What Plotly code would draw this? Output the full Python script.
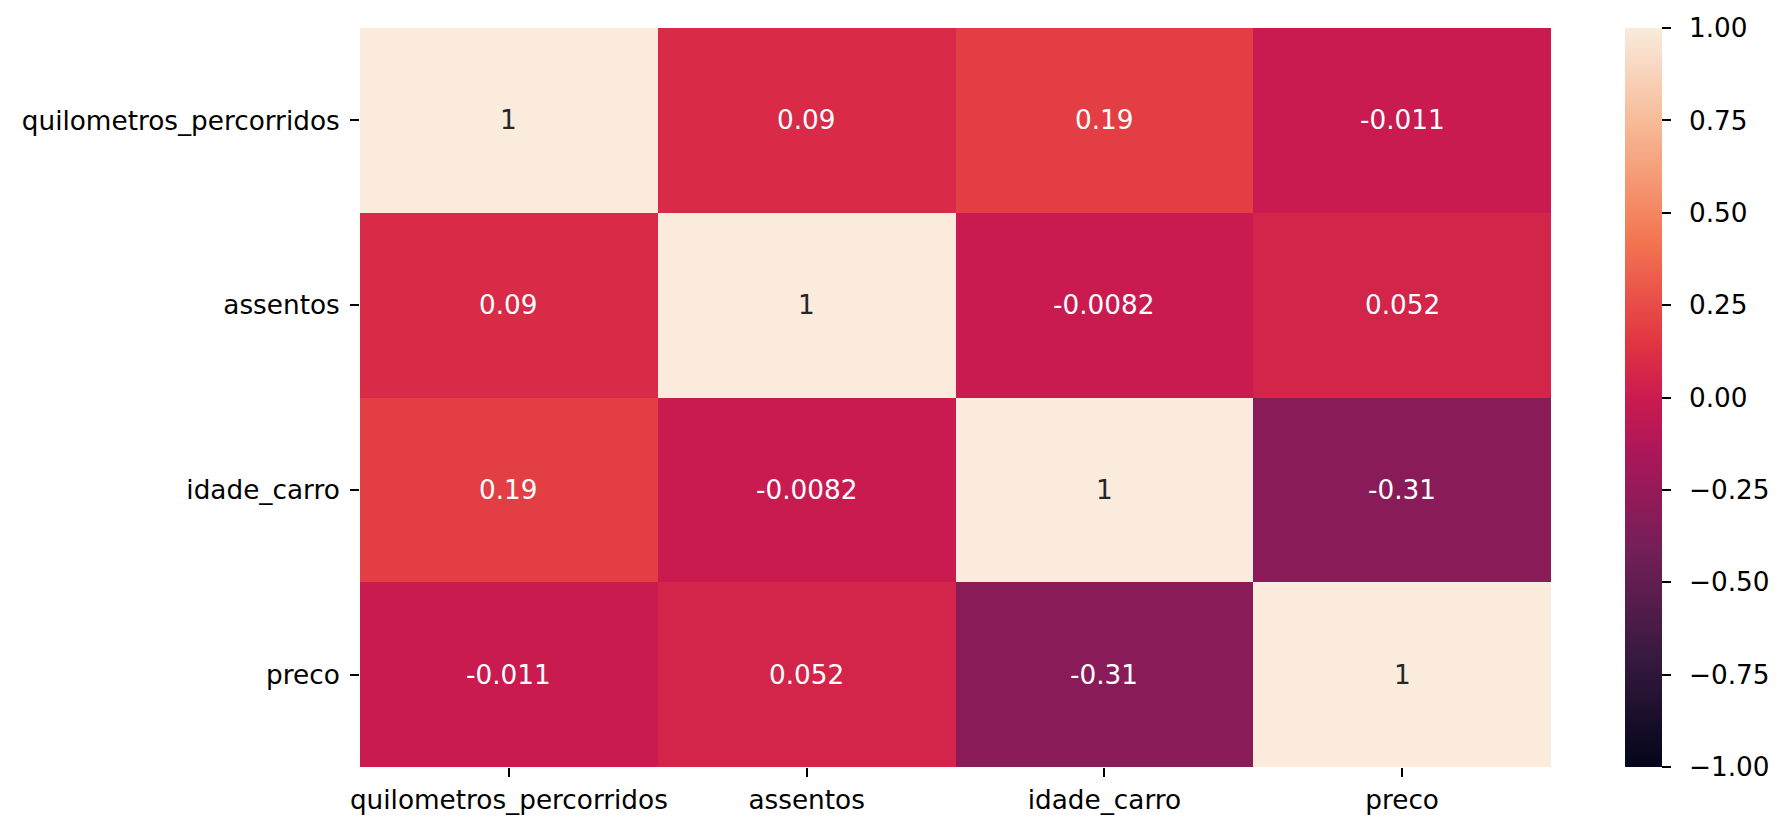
import plotly.graph_objects as go

# correlation matrix (seaborn heatmap, annot=True, vmin=-1, vmax=1)
colunas = ["quilometros_percorridos", "assentos", "idade_carro", "preco"]
corr = [
    [1, 0.09, 0.19, -0.011],
    [0.09, 1, -0.0082, 0.052],
    [0.19, -0.0082, 1, -0.31],
    [-0.011, 0.052, -0.31, 1],
]
cbar_ticks = [-1, -0.75, -0.5, -0.25, 0, 0.25, 0.5, 0.75, 1]
cbar_labels = ["\u22121.00", "\u22120.75", "\u22120.50", "\u22120.25", "0.00",
               "0.25", "0.50", "0.75", "1.00"]

# approximation of seaborn "rocket"
rocket = [
    [0.0, "#03051a"],
    [0.143, "#35193e"],
    [0.286, "#701f57"],
    [0.429, "#ad1759"],
    [0.5, "#cb1b4f"],
    [0.571, "#e13342"],
    [0.714, "#f37651"],
    [0.857, "#f6b48f"],
    [1.0, "#faebdd"],
]

texto = [[format(v, ".2g") for v in linha] for linha in corr]

fs = 26.3
fonte = dict(family="DejaVu Sans", size=fs, color="black")

fig = go.Figure()
fig.add_trace(go.Heatmap(
    z=corr, x=colunas, y=colunas,
    colorscale=rocket, zmin=-1, zmax=1,
    showscale=True,
    colorbar=dict(
        x=1.0621, xanchor="left", xpad=0, y=0.5, yanchor="middle", ypad=0,
        len=1, lenmode="fraction", thickness=37,
        outlinewidth=0, ticks="outside", ticklen=9, tickwidth=2,
        tickcolor="black", tickmode="array",
        tickvals=cbar_ticks, ticktext=["\u2002" + t for t in cbar_labels],
        tickfont=fonte,
    ),
    hoverinfo="skip",
))

# annotations: dark on the light diagonal, white elsewhere
for i, linha in enumerate(corr):
    for j, v in enumerate(linha):
        fig.add_annotation(
            x=colunas[j], y=colunas[i], text=texto[i][j], showarrow=False,
            font=dict(family="DejaVu Sans", size=fs,
                      color="#262626" if v > 0.6 else "white"),
        )

fig.update_layout(
    width=1781, height=832,
    margin=dict(l=352, r=238, t=20, b=73),
    plot_bgcolor="white", paper_bgcolor="white",
    font=fonte,
)
fig.update_xaxes(showgrid=False, zeroline=False, showline=False,
                 ticks="outside", ticklen=9, tickwidth=2, tickcolor="black",
                 ticklabelstandoff=0, tickfont=fonte)
fig.update_yaxes(showgrid=False, zeroline=False, showline=False,
                 autorange="reversed",
                 ticks="outside", ticklen=9, tickwidth=2, tickcolor="black",
                 ticklabelstandoff=5, tickfont=fonte)

fig.write_html("out.html")
